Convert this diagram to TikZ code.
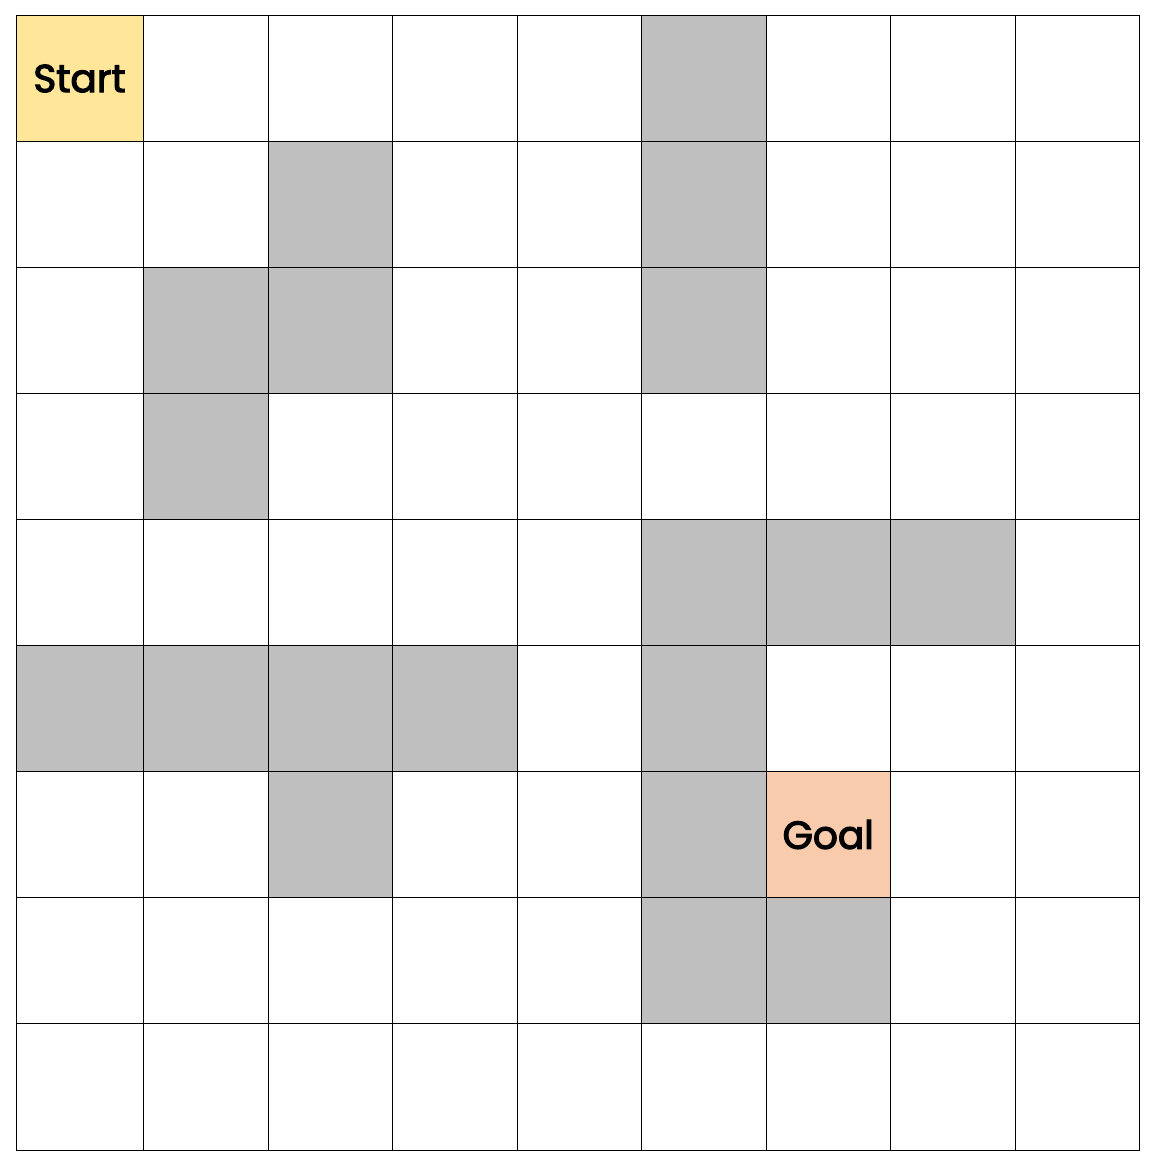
\documentclass[tikz,border=0pt]{standalone}
\usepackage{fontspec}
\setmainfont{Poppins}
\newfontfamily\labelfont{Poppins}[FakeBold=3]
\definecolor{wallgray}{HTML}{BFBFBF}
\definecolor{startyellow}{HTML}{FFE699}
\definecolor{goalpeach}{HTML}{F8CBAD}
\tikzset{
  cell/.style={draw=black, line width=1pt, inner sep=0pt, outer sep=0pt, anchor=north west},
  wall/.style={cell, fill=wallgray},
  startcell/.style={cell, fill=startyellow, font=\labelfont\fontsize{39}{41}\selectfont},
  goalcell/.style={cell, fill=goalpeach, font=\labelfont\fontsize{39}{41}\selectfont},
}
\def\xs{{16,143,268,392.5,517,641.5,766,890.5,1015,1139.5}}
\def\ys{{15.5,141.5,267.5,393.5,519.5,645.5,771.5,897.5,1023.5,1150}}
% \cellat{style}{name}{row}{col}{text}
\newcommand\cellat[5]{%
  \pgfmathsetmacro{\mxa}{\xs[#4]}%
  \pgfmathsetmacro{\mxb}{\xs[#4+1]}%
  \pgfmathsetmacro{\mya}{\ys[#3]}%
  \pgfmathsetmacro{\myb}{\ys[#3+1]}%
  \pgfmathsetmacro{\cellw}{\mxb-\mxa}%
  \pgfmathsetmacro{\cellh}{\myb-\mya}%
  \node[#1, minimum width=\cellw pt, minimum height=\cellh pt] (#2) at (\mxa,\mya) {#5};%
}
\begin{document}
\begin{tikzpicture}[x=1pt,y=-1pt]
\useasboundingbox (0,0) rectangle (1159,1166);
\fill[white] (0,0) rectangle (1159,1166);
\foreach \r in {0,...,8}{
  \foreach \c in {0,...,8}{
    \cellat{cell}{c-\r-\c}{\r}{\c}{}
  }
}
\foreach \r/\c in {0/5,1/2,1/5,2/1,2/2,2/5,3/1,4/5,4/6,4/7,5/0,5/1,5/2,5/3,5/5,6/2,6/5,7/5,7/6}{
  \cellat{wall}{w-\r-\c}{\r}{\c}{}
}
\cellat{startcell}{start}{0}{0}{Start}
\cellat{goalcell}{goal}{6}{6}{Goal}
\end{tikzpicture}
\end{document}
